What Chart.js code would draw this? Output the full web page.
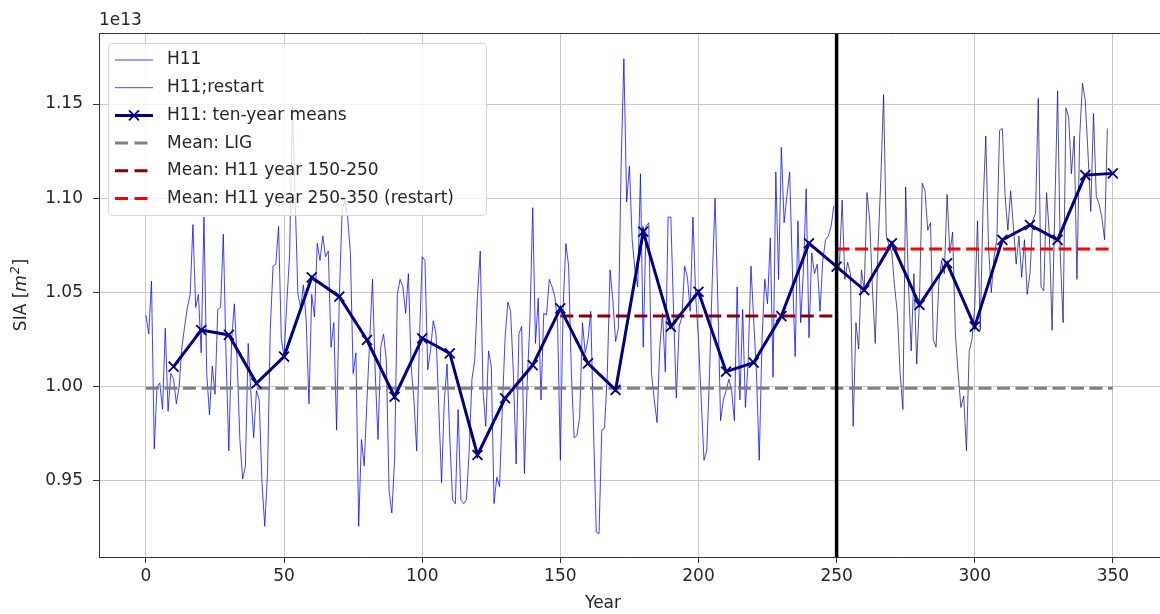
<!DOCTYPE html>
<html>
<head>
<meta charset="utf-8">
<title>SIA H11</title>
<script src="https://cdn.jsdelivr.net/npm/chart.js@4.4.1/dist/chart.umd.min.js"></script>
<style>
  html, body { margin: 0; padding: 0; background: #fff; overflow: hidden; }
  canvas { display: block; }
</style>
</head>
<body>
<canvas id="siaChart" width="1170" height="614"></canvas>
<script>
// values in units of 1e13 m^2
const h11Start = 0;
const h11Values = [
  1.038, 1.028, 1.056, 0.967, 1.000, 1.002, 0.988, 1.031, 0.987, 1.007,
  1.004, 0.991, 1.000, 1.021, 1.032, 1.042, 1.049, 1.086, 1.042, 1.049,
  1.018, 1.090, 1.007, 0.985, 1.011, 0.996, 1.041, 1.042, 1.081, 1.016,
  0.966, 1.025, 1.044, 1.014, 0.972, 0.951, 0.958, 1.023, 0.996, 0.973,
  0.998, 0.993, 0.949, 0.926, 0.954, 1.030, 1.064, 1.065, 1.085, 1.025,
  1.016, 1.045, 1.070, 1.149, 1.100, 1.049, 1.042, 1.054, 1.035, 0.991,
  1.049, 1.037, 1.076, 1.067, 1.080, 1.069, 1.072, 1.021, 1.034, 0.977,
  1.048, 1.093, 1.099, 1.090, 1.071, 1.007, 1.018, 0.926, 0.972, 0.958,
  0.993, 1.025, 1.057, 1.007, 0.972, 1.021, 1.028, 1.014, 0.945, 0.933,
  0.961, 1.049, 1.057, 1.053, 1.039, 1.060, 1.011, 0.993, 0.966, 1.025,
  1.069, 1.067, 1.009, 1.019, 1.035, 1.028, 0.989, 0.949, 0.993, 1.012,
  0.972, 0.940, 0.938, 0.988, 0.940, 0.938, 0.940, 0.966, 1.004, 1.014,
  1.048, 1.072, 0.998, 0.979, 1.019, 1.011, 0.938, 0.952, 0.947, 0.989,
  1.026, 1.045, 1.040, 1.007, 0.959, 1.028, 1.032, 0.954, 1.002, 1.035,
  1.095, 1.023, 1.047, 0.993, 1.039, 1.038, 1.057, 1.053, 1.048, 1.034,
  0.961, 1.042, 1.076, 1.064, 1.007, 0.973, 0.974, 0.984, 1.034, 1.018,
  1.025, 1.040, 0.978, 0.923, 0.922, 0.977, 0.978, 1.007, 1.062, 1.046,
  1.024, 1.031, 1.117, 1.174, 1.098, 1.117, 1.078, 1.062, 1.053, 1.113,
  1.021, 1.085, 1.087, 1.007, 0.993, 0.981, 1.021, 1.039, 1.008, 1.090,
  1.090, 1.039, 0.994, 1.032, 1.037, 1.064, 1.058, 1.040, 1.090, 1.048,
  1.025, 0.993, 0.961, 0.966, 1.007, 1.057, 1.100, 1.046, 0.982, 0.993,
  0.998, 1.004, 0.998, 0.982, 1.053, 0.993, 1.041, 0.989, 1.014, 1.064,
  1.035, 1.007, 0.961, 1.025, 1.057, 1.044, 1.079, 1.005, 1.114, 1.057,
  1.127, 1.087, 1.101, 1.114, 1.062, 1.016, 1.088, 1.034, 1.062, 1.105,
  1.026, 1.071, 1.060, 1.065, 1.040, 1.067, 1.078, 1.080, 1.085, 1.096
];

const restartStart = 250;
const restartValues = [
  1.062, 1.064, 1.099, 1.057, 1.066, 1.060, 0.979, 1.034, 1.020, 1.062,
  1.051, 1.103, 1.088, 1.051, 1.023, 1.074, 1.110, 1.155, 1.080, 1.075,
  1.071, 1.053, 1.039, 1.007, 0.988, 1.106, 1.055, 1.019, 1.060, 1.012,
  1.046, 1.108, 1.104, 1.083, 1.087, 1.025, 1.021, 1.055, 1.067, 1.060,
  1.102, 1.071, 1.082, 1.028, 1.007, 0.989, 0.995, 0.966, 1.019, 1.025,
  1.042, 1.088, 1.030, 1.095, 1.133, 1.074, 1.050, 1.069, 1.078, 1.136,
  1.137, 1.101, 1.083, 1.104, 1.085, 1.065, 1.080, 1.058, 1.078, 1.049,
  1.060, 1.088, 1.092, 1.153, 1.053, 1.051, 1.103, 1.081, 1.030, 1.095,
  1.157, 1.069, 1.034, 1.148, 1.143, 1.113, 1.133, 1.057, 1.133, 1.161,
  1.152, 1.124, 1.093, 1.145, 1.101, 1.097, 1.090, 1.078, 1.137
];

const meanYears = [10, 20, 30, 40, 50, 60, 70, 80, 90, 100, 110, 120, 130, 140, 150, 160, 170, 180,
  190, 200, 210, 220, 230, 240, 250, 260, 270, 280, 290, 300, 310, 320, 330, 340, 350];
const meanValues = [1.0107, 1.0301, 1.0275, 1.0018, 1.0160, 1.0580, 1.0478, 1.0248, 0.9947, 1.0257,
  1.0177, 0.9638, 0.9939, 1.0115, 1.0416, 1.0124, 0.9983, 1.0823, 1.0319, 1.0504,
  1.0080, 1.0128, 1.0375, 1.0761, 1.0637, 1.0513, 1.0761, 1.0434, 1.0655, 1.0319,
  1.0779, 1.0858, 1.0779, 1.1123, 1.1132];

const ligMean = 0.9992;
const ligSpan = [0, 350];
const h11Mean = 1.0375;
const h11Span = [150, 250];
const restartMean = 1.0731;
const restartSpan = [250, 350];
const restartYear = 250;

const xTicks = [0, 50, 100, 150, 200, 250, 300, 350];
const yTicks = [0.95, 1.00, 1.05, 1.10, 1.15];

const FONT = "'DejaVu Sans', 'Liberation Sans', sans-serif";
const TEXT = "#262626";

function series(start, values) {
  return values.map((v, i) => ({ x: start + i, y: v }));
}
function flat(span, v) {
  return [{ x: span[0], y: v }, { x: span[1], y: v }];
}

const legendItems = [
  { label: "H11", color: "rgba(0,0,255,0.75)", width: 1 },
  { label: "H11;restart", color: "rgba(0,0,139,0.7)", width: 1 },
  { label: "H11: ten-year means", color: "#000080", width: 3, marker: true },
  { label: "Mean: LIG", color: "#808080", width: 3, dash: [13, 6.5] },
  { label: "Mean: H11 year 150-250", color: "#8b0000", width: 3, dash: [13, 6.5] },
  { label: "Mean: H11 year 250-350 (restart)", color: "#ff0000", width: 3, dash: [13, 6.5] }
];

const overlay = {
  id: "overlay",
  afterDatasetsDraw(chart) {
    const { ctx, chartArea: a, scales } = chart;
    const px = scales.x.getPixelForValue(restartYear);
    ctx.save();
    ctx.strokeStyle = "#000";
    ctx.lineWidth = 3.5;
    ctx.beginPath();
    ctx.moveTo(px, a.top);
    ctx.lineTo(px, a.bottom);
    ctx.stroke();
    ctx.strokeStyle = "#333";
    ctx.lineWidth = 1;
    ctx.beginPath();
    ctx.moveTo(a.left, a.top + 0.5);
    ctx.lineTo(a.right, a.top + 0.5);
    ctx.stroke();
    ctx.restore();
  },
  afterDraw(chart) {
    const { ctx, chartArea: a } = chart;
    ctx.save();

    // legend box
    const bx = 108, by = 43, bw = 378, bh = 172;
    ctx.beginPath();
    ctx.roundRect(bx + 0.5, by + 0.5, bw, bh, 4);
    ctx.fillStyle = "rgba(255,255,255,0.8)";
    ctx.fill();
    ctx.strokeStyle = "#d6d6d6";
    ctx.lineWidth = 1;
    ctx.stroke();

    ctx.font = "17px " + FONT;
    ctx.textBaseline = "middle";
    legendItems.forEach((it, i) => {
      const ly = 60 + i * 27.7;
      ctx.strokeStyle = it.color;
      ctx.lineWidth = it.width;
      ctx.setLineDash(it.dash || []);
      ctx.beginPath();
      ctx.moveTo(115, ly);
      ctx.lineTo(153, ly);
      ctx.stroke();
      ctx.setLineDash([]);
      if (it.marker) {
        ctx.lineWidth = 1.8;
        ctx.beginPath();
        ctx.moveTo(129, ly - 5); ctx.lineTo(139, ly + 5);
        ctx.moveTo(129, ly + 5); ctx.lineTo(139, ly - 5);
        ctx.stroke();
      }
      ctx.fillStyle = TEXT;
      ctx.textAlign = "left";
      ctx.fillText(it.label, 167, ly);
    });

    // offset text
    ctx.fillStyle = TEXT;
    ctx.textAlign = "left";
    ctx.fillText("1e13", a.left, 21);

    // x title
    ctx.textAlign = "center";
    ctx.fillText("Year", 603, 604);

    // y title: SIA [m^2]
    ctx.translate(22, (a.top + a.bottom) / 2);
    ctx.rotate(-Math.PI / 2);
    ctx.textAlign = "left";
    const fN = "17px " + FONT, fI = "italic 17px " + FONT, fS = "italic 12px " + FONT;
    ctx.font = fN; const w1 = ctx.measureText("SIA [").width;
    ctx.font = fI; const w2 = ctx.measureText("m").width;
    ctx.font = fS; const w3 = ctx.measureText("2").width;
    ctx.font = fN; const w4 = ctx.measureText("]").width;
    let tx = -(w1 + w2 + w3 + w4 + 2) / 2;
    ctx.font = fN; ctx.fillText("SIA [", tx, 0); tx += w1;
    ctx.font = fI; ctx.fillText("m", tx, 0); tx += w2 + 1;
    ctx.font = fS; ctx.fillText("2", tx, -6); tx += w3 + 1;
    ctx.font = fN; ctx.fillText("]", tx, 0);
    ctx.restore();
  }
};

new Chart(document.getElementById("siaChart"), {
  type: "line",
  data: {
    datasets: [
      {
        label: "H11: ten-year means",
        data: meanYears.map((yr, i) => ({ x: yr, y: meanValues[i] })),
        borderColor: "#000080",
        borderWidth: 3,
        pointStyle: "crossRot",
        pointRadius: 7,
        pointBorderWidth: 1.8,
        pointBorderColor: "#000080",
        pointBackgroundColor: "#000080",
        order: 1
      },
      {
        label: "Mean: LIG",
        data: flat(ligSpan, ligMean),
        borderColor: "#808080",
        borderWidth: 3,
        borderDash: [13, 5.5],
        pointRadius: 0,
        order: 2
      },
      {
        label: "Mean: H11 year 150-250",
        data: flat(h11Span, h11Mean),
        borderColor: "#8b0000",
        borderWidth: 3,
        borderDash: [13, 5.5],
        pointRadius: 0,
        order: 2
      },
      {
        label: "Mean: H11 year 250-350 (restart)",
        data: flat(restartSpan, restartMean),
        borderColor: "#ff0000",
        borderWidth: 3,
        borderDash: [13, 5.5],
        pointRadius: 0,
        order: 2
      },
      {
        label: "H11;restart",
        data: series(restartStart, restartValues),
        borderColor: "rgba(0,0,139,0.7)",
        borderWidth: 1,
        pointRadius: 0,
        order: 3
      },
      {
        label: "H11",
        data: series(h11Start, h11Values),
        borderColor: "rgba(0,0,255,0.75)",
        borderWidth: 1,
        pointRadius: 0,
        order: 4
      }
    ]
  },
  options: {
    responsive: false,
    animation: false,
    devicePixelRatio: 1,
    layout: { padding: { left: 0, top: 33, right: 8, bottom: 0 } },
    plugins: { legend: { display: false }, tooltip: { enabled: false } },
    scales: {
      x: {
        type: "linear",
        min: -17,
        max: 367.5,
        afterBuildTicks: (axis) => { axis.ticks = xTicks.map(v => ({ value: v })); },
        afterFit: (axis) => { axis.height = 57; },
        grid: { color: "#c8c8c8", lineWidth: 1, tickColor: "#333", tickLength: 6 },
        border: { display: true, color: "#333", width: 1 },
        ticks: {
          autoSkip: false, maxRotation: 0, padding: 3, color: TEXT,
          font: { family: FONT, size: 17 },
          callback: (v) => String(v)
        }
      },
      y: {
        type: "linear",
        min: 0.90968,
        max: 1.18767,
        afterBuildTicks: (axis) => { axis.ticks = yTicks.map(v => ({ value: v })); },
        afterFit: (axis) => { axis.width = 99; },
        grid: { color: "#c8c8c8", lineWidth: 1, tickColor: "#333", tickLength: 6 },
        border: { display: true, color: "#333", width: 1 },
        ticks: {
          padding: 10, color: TEXT,
          font: { family: FONT, size: 17 },
          callback: (v) => Number(v).toFixed(2)
        }
      }
    }
  },
  plugins: [overlay]
});
</script>
</body>
</html>
